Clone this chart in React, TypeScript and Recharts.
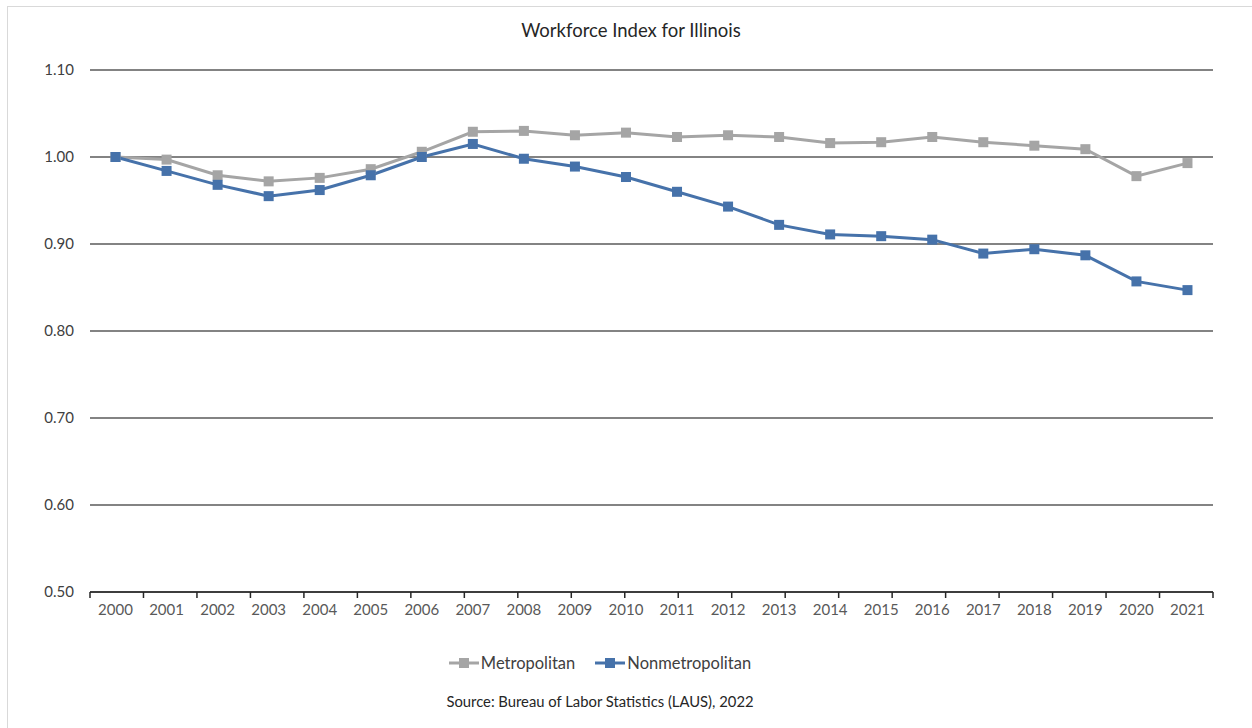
import { LineChart, Line, XAxis, YAxis, CartesianGrid } from 'recharts'

const years = ['2000', '2001', '2002', '2003', '2004', '2005', '2006', '2007', '2008', '2009', '2010', '2011', '2012', '2013', '2014', '2015', '2016', '2017', '2018', '2019', '2020', '2021']

const metropolitan = [1.0, 0.997, 0.979, 0.972, 0.976, 0.986, 1.006, 1.029, 1.03, 1.025, 1.028, 1.023, 1.025, 1.023, 1.016, 1.017, 1.023, 1.017, 1.013, 1.009, 0.978, 0.993]

const nonmetropolitan = [1.0, 0.984, 0.968, 0.955, 0.962, 0.979, 1.0, 1.015, 0.998, 0.989, 0.977, 0.96, 0.943, 0.922, 0.911, 0.909, 0.905, 0.889, 0.894, 0.887, 0.857, 0.847]

const yTicks = [0.5, 0.6, 0.7, 0.8, 0.9, 1.0, 1.1]
const boundaryTicks = years.map((_, i) => i).concat([years.length])

const METRO = '#A5A5A5'
const NONMETRO = '#4672AA'
const FONT = 'Lato, "Open Sans", sans-serif'

const chartData = years.map((year, i) => ({
  year,
  Metropolitan: metropolitan[i],
  Nonmetropolitan: nonmetropolitan[i],
}))

// Excel-style square marker
const squareDot = (color: string) => (props: any) => {
  const { cx, cy, index } = props
  if (cx == null || cy == null) return <g key={`d-${index}`} />
  return <rect key={`d-${index}`} x={cx - 5} y={cy - 5} width={10} height={10} fill={color} />
}

const emptyTick = () => <g />

const legendItems = [
  { name: 'Metropolitan', color: METRO },
  { name: 'Nonmetropolitan', color: NONMETRO },
]

export default function App() {
  return (
    <div style={{ position: 'absolute', left: 0, top: 0, width: 1252, height: 728, background: '#fff', overflow: 'hidden' }}>
      <style>{'body{margin:0}'}</style>
      <div style={{ position: 'absolute', left: 7, top: 6, width: 1260, height: 740, border: '1px solid #d9d9d9' }} />
      <div style={{ position: 'absolute', left: 0, top: 19, width: 1262, textAlign: 'center', fontFamily: FONT, fontSize: 18.5, color: '#262626' }}>
        Workforce Index for Illinois
      </div>
      <div style={{ position: 'absolute', left: 0, top: 0 }}>
        <LineChart width={1252} height={728} data={chartData} margin={{ top: 70, right: 39, bottom: 95, left: 0 }}>
          <CartesianGrid horizontal vertical={false} stroke="#5a5a5a" strokeWidth={1.4} />
          {/* category-boundary tick marks, Excel style (default id so it sits on the plot edge) */}
          <XAxis
            xAxisId={0}
            type="number"
            domain={[0, years.length]}
            ticks={boundaryTicks}
            interval={0}
            tick={emptyTick}
            tickSize={6}
            axisLine={{ stroke: '#262626', strokeWidth: 1.5 }}
            tickLine={{ stroke: '#262626', strokeWidth: 1.5 }}
            height={1}
          />
          <XAxis
            xAxisId="years"
            dataKey="year"
            scale="band"
            axisLine={false}
            tickLine={false}
            tickSize={0}
            tickMargin={11}
            interval={0}
            tick={{ fill: '#595959', fontSize: 15, fontFamily: FONT }}
            height={40}
          />
          <YAxis
            domain={[0.5, 1.1]}
            ticks={yTicks}
            axisLine={false}
            tickLine={false}
            tickSize={0}
            tickMargin={16}
            width={90}
            tickFormatter={(v: number) => v.toFixed(2)}
            tick={{ fill: '#404040', fontSize: 15, fontFamily: FONT }}
          />
          <Line
            xAxisId="years"
            type="linear"
            dataKey="Metropolitan"
            stroke={METRO}
            strokeWidth={3}
            dot={squareDot(METRO)}
            activeDot={false}
            isAnimationActive={false}
          />
          <Line
            xAxisId="years"
            type="linear"
            dataKey="Nonmetropolitan"
            stroke={NONMETRO}
            strokeWidth={3}
            dot={squareDot(NONMETRO)}
            activeDot={false}
            isAnimationActive={false}
          />
        </LineChart>
      </div>
      <div style={{ position: 'absolute', left: 0, top: 653, width: 1200, display: 'flex', justifyContent: 'center', gap: 20, fontFamily: FONT, fontSize: 16.5, color: '#404040' }}>
        {legendItems.map(item => (
          <div key={item.name} style={{ display: 'flex', alignItems: 'center' }}>
            <svg width={30} height={12} style={{ marginRight: 2 }}>
              <line x1={0} y1={6} x2={30} y2={6} stroke={item.color} strokeWidth={3} />
              <rect x={10} y={1} width={10} height={10} fill={item.color} />
            </svg>
            <span>{item.name}</span>
          </div>
        ))}
      </div>
      <div style={{ position: 'absolute', left: 0, top: 692, width: 1200, textAlign: 'center', fontFamily: FONT, fontSize: 14.8, color: '#262626' }}>
        Source: Bureau of Labor Statistics (LAUS), 2022
      </div>
    </div>
  )
}
